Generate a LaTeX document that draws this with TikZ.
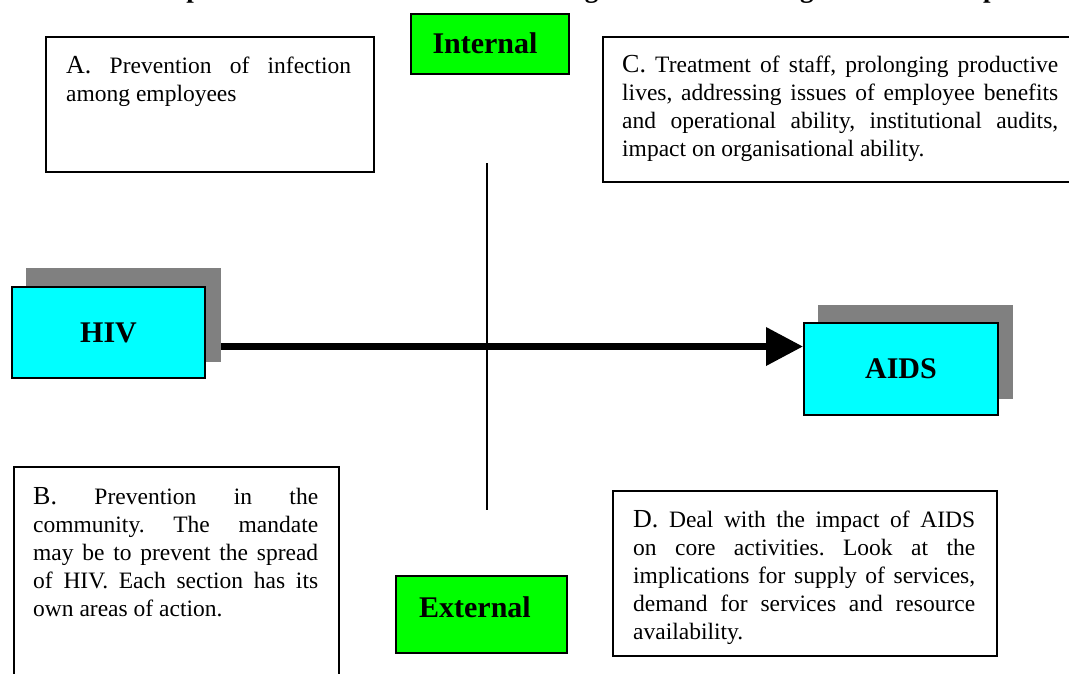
\documentclass[tikz,border=0pt]{standalone}
\usepackage{fontspec}
\setmainfont{Liberation Serif}
\usetikzlibrary{arrows.meta}
\definecolor{cyanfill}{RGB}{0,255,255}
\definecolor{greenfill}{RGB}{0,255,0}
\definecolor{shadegray}{RGB}{128,128,128}
\newcommand\leadl[1]{{\fontsize{26}{28}\selectfont #1}}
\newcommand\jsp{\frenchspacing\spaceskip=.25em plus 3em minus .02em\relax}
\begin{document}
\begin{tikzpicture}[x=1pt,y=-1pt,
  box/.style={draw=black, line width=2pt, fill=white, inner sep=0pt, anchor=north west},
  lab/.style={draw=black, line width=2pt, fill=greenfill, inner sep=0pt, anchor=north west},
  labtxt/.style={inner sep=0pt, font=\bfseries\fontsize{30}{32}\selectfont},
  cbox/.style={draw=black, line width=2pt, fill=cyanfill, inner sep=0pt, anchor=north west,
    font=\bfseries\fontsize{30}{32}\selectfont},
  shade/.style={fill=shadegray, draw=none, inner sep=0pt, anchor=north west},
  txt/.style={inner sep=0pt, anchor=base west, align=justify,
    font=\fontsize{23.5}{28}\selectfont},
  conn/.style={line width=7pt, -{Triangle[length=37pt,width=37pt]}}
]
\useasboundingbox (0,0) rectangle (1069,673);
% title (clipped by the page edge, as in the reference)
\node[anchor=base west, inner sep=0pt, font=\bfseries\fontsize{27}{30}\selectfont]
  (title) at (124,-3) {A map of the four areas of action for Organisations tackling HIV/AIDS Impacts};
% quadrant boxes
\node[box, minimum width=328, minimum height=135] (A) at (45,36) {};
\node[txt, text width=285] (At) at (66,73)
  {\jsp\leadl{A.} Prevention of infection\linebreak among employees};
\node[box, minimum width=480, minimum height=145] (C) at (602,36) {};
\node[txt, text width=436] (Ct) at (622,72)
  {\jsp\leadl{C.} Treatment of staff, prolonging productive\linebreak lives, addressing issues of employee benefits\linebreak and operational ability, institutional audits,\linebreak impact on organisational ability.};
\node[box, minimum width=325, minimum height=240] (B) at (13,466) {};
\node[txt, text width=285] (Bt) at (33,504)
  {\jsp\leadl{B.} Prevention in the\linebreak community. The mandate\linebreak may be to prevent the spread\linebreak of HIV. Each section has its\linebreak own areas of action.};
\node[box, minimum width=384, minimum height=165] (D) at (612,490) {};
\node[txt, text width=342] (Dt) at (633,527)
  {\jsp\leadl{D.} Deal with the impact of AIDS\linebreak on core activities. Look at the\linebreak implications for supply of services,\linebreak demand for services and resource\linebreak availability.};
% axis labels
\node[lab, minimum width=158, minimum height=60] (int) at (410,13) {};
\node[labtxt] (intt) at (485,43) {Internal};
\node[lab, minimum width=171, minimum height=77] (ext) at (395,575) {};
\node[labtxt] (extt) at (475,607) {External};
% vertical divider
\coordinate (vtop) at (487,163);
\coordinate (vbot) at (487,510);
\draw[line width=2pt] (vtop) -- (vbot);
% HIV and AIDS
\node[shade, minimum width=195, minimum height=94] (hivsh) at (26,268) {};
\node[cbox, minimum width=193, minimum height=91] (hiv) at (11,286) {HIV};
\node[shade, minimum width=195, minimum height=94] (aidssh) at (818,305) {};
\node[cbox, minimum width=194, minimum height=92] (aids) at (803,322) {AIDS};
\coordinate (ay) at (0,346.5);
\draw[conn] (hivsh.east |- ay) -- (aids.west |- ay);
\end{tikzpicture}
\end{document}
